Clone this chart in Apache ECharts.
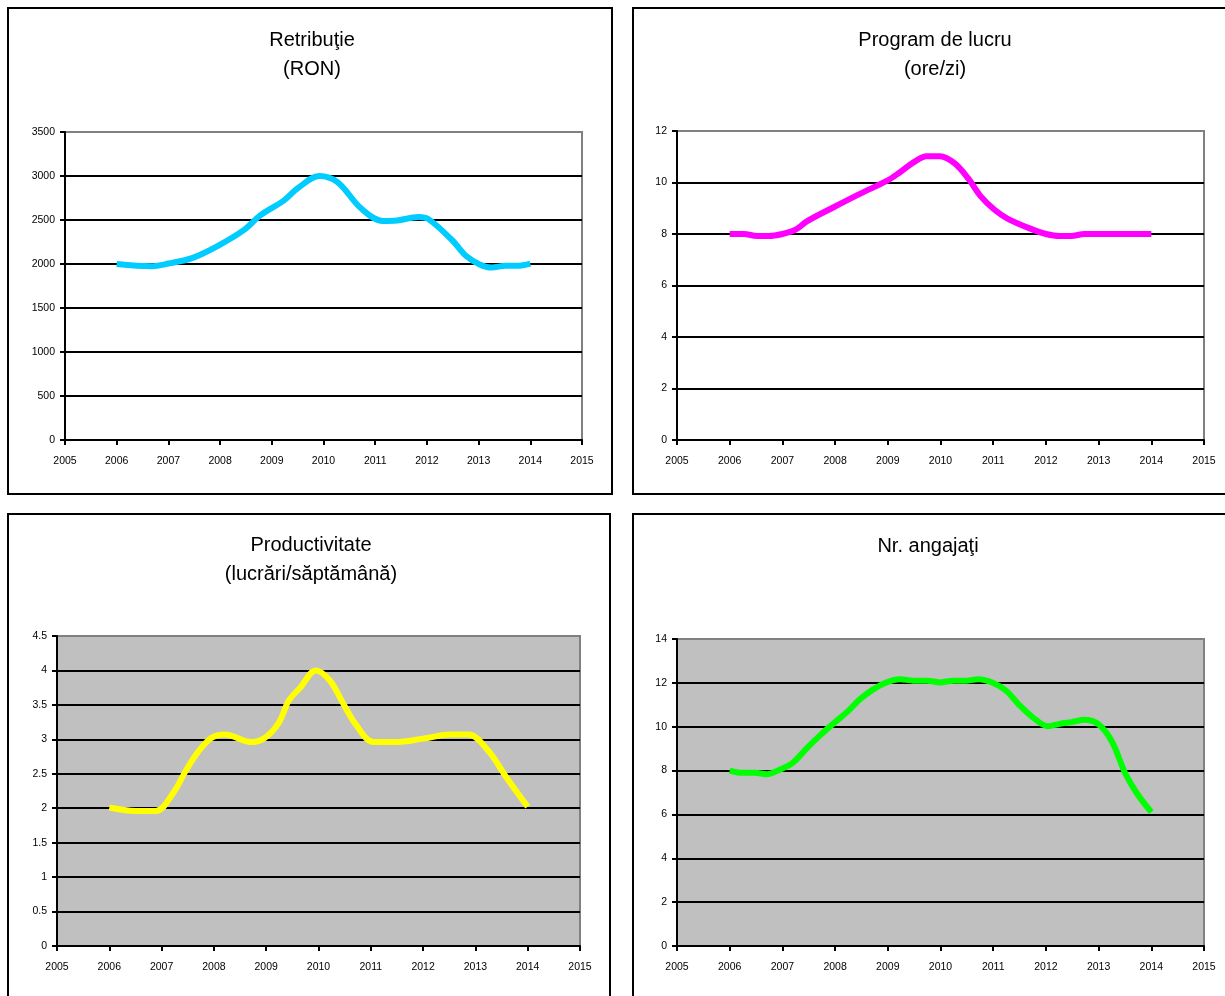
<!DOCTYPE html>
<html>
<head>
<meta charset="utf-8">
<script src="https://cdn.jsdelivr.net/npm/echarts@6/dist/echarts.min.js"></script>
<style>
  html, body { margin: 0; padding: 0; background: #fff; }
  #chart { width: 1225px; height: 996px; }
</style>
</head>
<body>
<div id="chart"></div>
<script>
// Year axis shared by all four panels
const yearMin = 2005;
const yearMax = 2015;

// Retribuţie (RON)
const retribYears  = [2006.0, 2006.67, 2007.0, 2007.47, 2008.0, 2008.47, 2008.77, 2009.23, 2009.5, 2009.92, 2010.27, 2010.73, 2011.15, 2011.42, 2011.84, 2012.03, 2012.49, 2012.76, 2013.02, 2013.25, 2013.52, 2013.75, 2014.0];
const retribValues = [2000, 1975, 2005, 2070, 2220, 2390, 2550, 2720, 2860, 3000, 2930, 2630, 2490, 2495, 2535, 2510, 2270, 2090, 1995, 1960, 1980, 1980, 2005];

// Program de lucru (ore/zi)
const programYears  = [2006.0, 2006.27, 2006.52, 2006.74, 2007.0, 2007.25, 2007.47, 2007.98, 2008.46, 2008.97, 2009.22, 2009.48, 2009.74, 2009.99, 2010.27, 2010.54, 2010.76, 2011.02, 2011.27, 2011.75, 2012.0, 2012.26, 2012.48, 2012.73, 2013.0, 2014.0];
const programValues = [8, 8, 7.92, 7.92, 8.0, 8.17, 8.5, 9.05, 9.55, 10.05, 10.38, 10.77, 11.02, 11.02, 10.74, 10.12, 9.47, 8.95, 8.6, 8.17, 8.0, 7.92, 7.92, 8.0, 8.0, 8.0];

// Productivitate (lucrări/săptămână)
const prodYears  = [2006.0, 2006.51, 2006.89, 2007.23, 2007.46, 2007.69, 2007.95, 2008.21, 2008.71, 2008.97, 2009.24, 2009.43, 2009.65, 2009.95, 2010.22, 2010.48, 2010.71, 2011.05, 2011.47, 2012.0, 2012.53, 2012.87, 2013.25, 2013.59, 2014.0];
const prodValues = [2.01, 1.96, 1.96, 2.23, 2.54, 2.81, 3.02, 3.07, 2.96, 3.02, 3.24, 3.56, 3.75, 4.0, 3.85, 3.51, 3.22, 2.96, 2.96, 3.01, 3.07, 3.07, 2.83, 2.45, 2.02];

// Nr. angajaţi
const angajatiYears  = [2006.0, 2006.23, 2006.48, 2006.70, 2006.96, 2007.21, 2007.47, 2007.73, 2007.98, 2008.24, 2008.46, 2008.71, 2008.97, 2009.23, 2009.48, 2009.74, 2009.99, 2010.25, 2010.5, 2010.72, 2010.98, 2011.24, 2011.49, 2011.75, 2012.04, 2012.26, 2012.51, 2012.73, 2012.99, 2013.25, 2013.5, 2013.72, 2014.0];
const angajatiValues = [8.0, 7.9, 7.9, 7.83, 8.05, 8.38, 9.04, 9.64, 10.17, 10.7, 11.23, 11.68, 12.02, 12.17, 12.1, 12.1, 12.02, 12.1, 12.1, 12.17, 12.02, 11.65, 11.0, 10.43, 10.02, 10.13, 10.22, 10.32, 10.13, 9.34, 7.9, 6.99, 6.1];

// Panel titles
const titles = [
  ['Retribuţie', '(RON)'],
  ['Program de lucru', '(ore/zi)'],
  ['Productivitate', '(lucrări/săptămână)'],
  ['Nr. angajaţi']
];

// Value-axis ranges
const yRanges = [
  { min: 0, max: 3500, interval: 500 },
  { min: 0, max: 12, interval: 2 },
  { min: 0, max: 4.5, interval: 0.5 },
  { min: 0, max: 14, interval: 2 }
];

const FONT = '"Liberation Sans", Arial, Helvetica, sans-serif';

// Layout of each panel: frame, plot area, title centre
const layout = [
  { frame: [8, 8, 604, 486],   plot: [65, 132, 517, 308],  cx: 312, ty: 40,  bg: '#ffffff', color: '#00CCFF' },
  { frame: [633, 8, 620, 486], plot: [677, 131, 527, 309], cx: 935, ty: 40,  bg: '#ffffff', color: '#FF00FF' },
  { frame: [8, 514, 602, 520], plot: [57, 636, 523, 310],  cx: 311, ty: 545, bg: '#C0C0C0', color: '#FFFF00' },
  { frame: [633, 514, 620, 520], plot: [677, 639, 527, 307], cx: 928, ty: 546, bg: '#C0C0C0', color: '#00FF00' }
];

const seriesData = [
  [retribYears, retribValues],
  [programYears, programValues],
  [prodYears, prodValues],
  [angajatiYears, angajatiValues]
];

const plain = v => String(v);

const grid = [], xAxis = [], yAxis = [], series = [], graphic = [];

layout.forEach((p, i) => {
  grid.push({
    left: p.plot[0], top: p.plot[1], width: p.plot[2], height: p.plot[3],
    show: true, backgroundColor: p.bg, borderColor: '#808080', borderWidth: 2,
    containLabel: false
  });
  xAxis.push({
    gridIndex: i, type: 'value', min: yearMin, max: yearMax, interval: 1,
    axisLine: { show: true, onZero: false, lineStyle: { color: '#000', width: 2 } },
    axisTick: { show: true, inside: false, length: 5, lineStyle: { color: '#000', width: 2 } },
    axisLabel: { show: true, color: '#000', fontSize: 10.5, fontFamily: FONT, margin: 16,
                 formatter: plain, showMinLabel: true, showMaxLabel: true, hideOverlap: false },
    splitLine: { show: false }
  });
  yAxis.push({
    gridIndex: i, type: 'value',
    min: yRanges[i].min, max: yRanges[i].max, interval: yRanges[i].interval,
    axisLine: { show: true, onZero: false, lineStyle: { color: '#000', width: 2 } },
    axisTick: { show: true, inside: false, length: 5, lineStyle: { color: '#000', width: 2 } },
    axisLabel: { show: true, color: '#000', fontSize: 10.5, fontFamily: FONT, margin: 10,
                 formatter: plain, showMinLabel: true, showMaxLabel: true, hideOverlap: false },
    splitLine: { show: true, showMinLine: false, showMaxLine: false,
                 lineStyle: { color: '#000', width: 2 } }
  });
  const [xs, ys] = seriesData[i];
  series.push({
    type: 'line', xAxisIndex: i, yAxisIndex: i,
    data: xs.map((x, k) => [x, ys[k]]),
    smooth: 0.35, symbol: 'none', showSymbol: false, clip: false,
    lineStyle: { color: p.color, width: 6, cap: 'butt', join: 'round' },
    z: 5
  });

  // Panel frame
  graphic.push({
    type: 'rect', silent: true,
    shape: { x: p.frame[0], y: p.frame[1], width: p.frame[2], height: p.frame[3] },
    style: { fill: 'none', stroke: '#000', lineWidth: 2 }, z: 100
  });
  // Title lines
  titles[i].forEach((line, k) => {
    graphic.push({
      type: 'text', silent: true, x: p.cx, y: p.ty + k * 29,
      style: { text: line, fill: '#000', font: '20px ' + FONT,
               textAlign: 'center', textVerticalAlign: 'middle' },
      z: 100
    });
  });
});

const chart = echarts.init(document.getElementById('chart'), null, { renderer: 'canvas' });
chart.setOption({
  animation: false,
  backgroundColor: '#ffffff',
  grid, xAxis, yAxis, series, graphic
});
</script>
</body>
</html>
